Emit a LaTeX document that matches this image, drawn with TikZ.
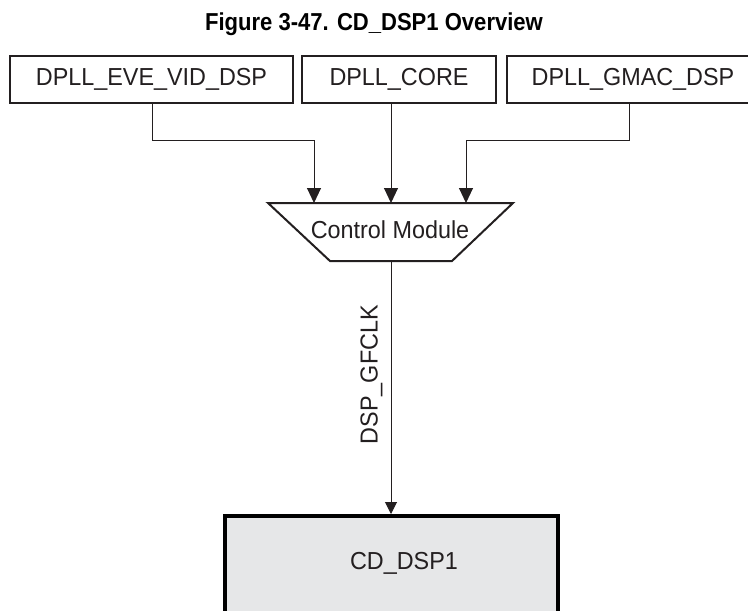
\documentclass[tikz,border=0pt]{standalone}
\usepackage{fontspec}
\setmainfont{Liberation Sans}
\newfontfamily\titlefont[FakeStretch=0.9]{Liberation Sans Bold}
\newfontfamily\labelfont[FakeStretch=0.95]{Liberation Sans}
\usetikzlibrary{arrows.meta}
\definecolor{ink}{HTML}{231F20}
\definecolor{boxgray}{HTML}{E6E7E8}
\tikzset{
  x=1pt, y=-1pt,
  srcbox/.style={draw=ink, line width=1.1pt, fill=white},
  lbl/.style={font=\labelfont\fontsize{24.6}{27}\selectfont, text=ink, inner sep=0pt},
  conn/.style={draw=ink, line width=1pt, -{Triangle[length=15pt,width=14pt]}},
}
\begin{document}
\begin{tikzpicture}
\useasboundingbox (0,0) rectangle (748,611);
\clip (0,0) rectangle (748,611);
% title
\node[font=\titlefont\fontsize{24.5}{27}\selectfont, text=black, inner sep=0pt] (title) at (374,24) {Figure 3-47. CD\_DSP1 Overview};
% source boxes
\draw[srcbox] (10,56) rectangle (293,103);
\node[lbl] (eve) at (151.5,79) {DPLL\_EVE\_VID\_DSP};
\coordinate (eveb) at (152,103);
\draw[srcbox] (302,56) rectangle (496,103);
\node[lbl] (core) at (399,79) {DPLL\_CORE};
\coordinate (coreb) at (391,103);
\draw[srcbox] (507,56) rectangle (759,103);
\node[lbl] (gmac) at (633,79) {DPLL\_GMAC\_DSP};
\coordinate (gmacb) at (629,103);
% control module trapezoid
\draw[draw=ink, line width=2pt, fill=white, line join=miter] (268,203) -- (513,203) -- (452,261) -- (330,261) -- cycle;
\node[lbl] (cm) at (390,230) {Control Module};
\coordinate (cmin1) at (314,203);
\coordinate (cmin2) at (391,203);
\coordinate (cmin3) at (466,203);
\coordinate (cmout) at (391,261);
% connectors
\draw[conn] (eveb) -- (152,140) -- (314,140) -- (cmin1);
\draw[conn] (coreb) -- (cmin2);
\draw[conn] (gmacb) -- (629,140) -- (466,140) -- (cmin3);
% CD_DSP1 box
\draw[draw=black, line width=4pt, fill=boxgray] (224.7,516) rectangle (558,660);
\node[lbl] (dsp) at (404,563) {CD\_DSP1};
\coordinate (dspt) at (391,514);
\draw[draw=ink, line width=1pt, -{Triangle[length=12pt,width=12pt]}] (cmout) -- (dspt)
  node[pos=0.449, lbl, rotate=90, anchor=south, yshift=8pt] (gf) {DSP\_GFCLK};
\end{tikzpicture}
\end{document}
